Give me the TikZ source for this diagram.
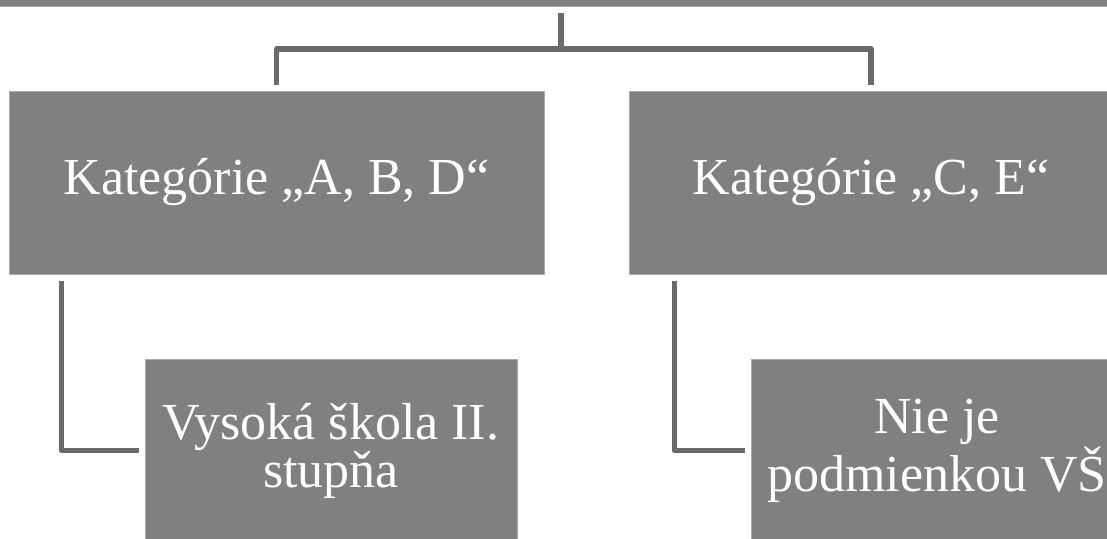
\documentclass[tikz,border=0pt]{standalone}
\usepackage{fontspec}
\setmainfont{Liberation Serif}
\usepackage{xcolor}
\usepackage{tikz}
\usetikzlibrary{positioning,calc}

\definecolor{boxgray}{RGB}{128,128,128}
\definecolor{edgegray}{RGB}{170,170,170}
\definecolor{linkgray}{RGB}{106,106,106}

\begin{document}
\begin{tikzpicture}[
    x=0.5pt, y=-0.5pt,
    box/.style={rectangle, draw=edgegray, line width=0.5pt, fill=boxgray, text=white, inner sep=0pt, minimum height=91.5pt, align=center, font=\fontsize{26}{24}\selectfont},
    link/.style={draw=linkgray, line width=2.6pt, line join=round, line cap=butt}
]
\useasboundingbox (0,0) rectangle (1107,538);

% Top level (cut off by the page edge)
\node[box, minimum width=571pt, minimum height=46pt] (root) at (561,-40) {};

% Categories
\node[box, minimum width=267.5pt] (pa) at (276.5,182.5) {Kategórie „A, B, D“};
\node[box, minimum width=242pt] (pb) at (871,182.5) {Kategórie „C, E“};

% Requirements
\node[box, minimum width=186pt] (ca) at (331,450.5) {Vysoká škola II.\\stupňa};
\node[box, minimum width=186pt] (cb) at (937,450.5) {Nie je\\podmienkou VŠ};

% Connectors
\coordinate (hub) at (561,49);
\draw[link] ([yshift=-3pt]root.south) -- (hub);
\draw[link] (hub) -| ([yshift=3pt]pa.north);
\draw[link] (hub) -| ([yshift=3pt]pb.north);

\draw[link] ([xshift=26.5pt,yshift=-3pt]pa.south west) |- ([xshift=-3pt]ca.west);
\draw[link] ([xshift=23pt,yshift=-3pt]pb.south west) |- ([xshift=-3pt]cb.west);

\end{tikzpicture}
\end{document}
